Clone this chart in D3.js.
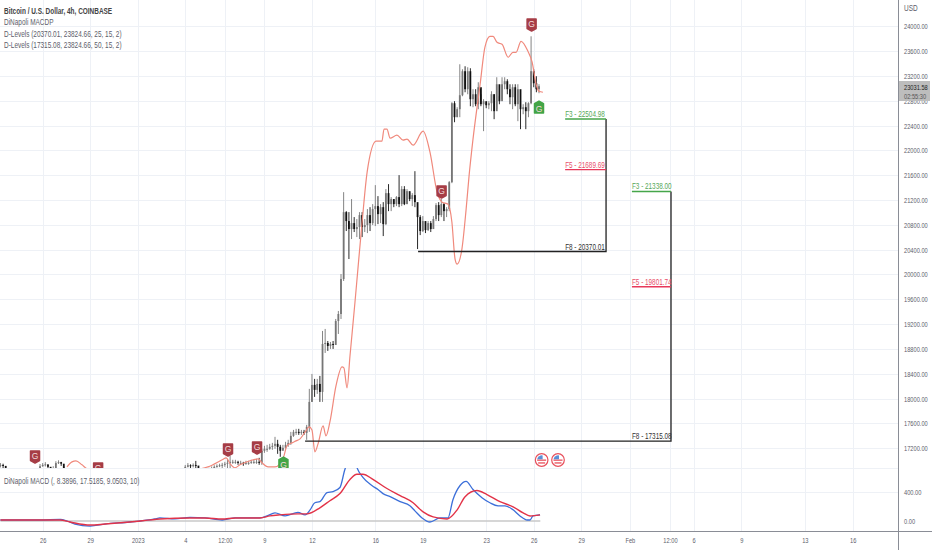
<!DOCTYPE html>
<html>
<head>
<meta charset="utf-8">
<script src="https://cdnjs.cloudflare.com/ajax/libs/d3/7.8.5/d3.min.js"></script>
<style>
  html, body { margin: 0; padding: 0; background: #fff; }
  svg { display: block; font-family: "Liberation Sans", sans-serif; }
  .tick text { fill: #5d606b; font-size: 7.6px; }
  .legend { fill: #5d606b; font-size: 8.6px; }
</style>
</head>
<body>
<div id="chart"></div>
<script>
// 4h closes, one per bar (open = previous close)
var closes = [
  16930,16915,16850,16830,16820,16835,16825,16810,16820,16830,
  16815,16805,16820,16830,16850,16910,16930,16940,16900,16860,
  16880,16960,16975,16950,16880,16850,16830,16820,16835,16820,
  16810,16800,16815,16800,16810,16790,16800,16805,16790,16800,
  16810,16800,16790,16800,16790,16785,16800,16810,16790,16780,
  16790,16800,16810,16800,16790,16800,16810,16790,16800,16810,
  16820,16810,16800,16810,16820,16830,16820,16810,16820,16830,
  16900,16925,16910,16930,16920,16860,16850,16840,16850,16860,
  16880,16900,16915,16925,
  16932,16948,16964,16980,16980,16980,16964,16964,16948,16964,16964,16980,16980,16980,16964,17158,
  17190,17190,17222,17238,17270,17222,17158,17206,17254,17286,
  17399,17463,17463,17447,17463,17447,17544,17946,18220,18140,
  18236,18107,18880,18896,18848,18880,18864,19250,19363,19927,
  21005,20861,20732,20828,20732,20764,20957,20764,20796,20957,
  20828,21054,21102,20973,21085,20812,21311,21134,21215,21134,
  21247,21134,21376,21134,21343,21215,21279,21166,20925,20700,
  20861,20716,20828,20732,20893,21118,20957,21134,21021,21054,
  21488,22760,22535,22664,22889,23276,22986,23276,22825,22905,
  22744,23018,22744,22793,22728,22760,22905,22632,23066,22793,
  23066,23115,22986,22857,23018,22744,22986,22664,22696,22632,
  22760,23276,23082,22986,23034
];
var highs = [
  16960,16950,16880,16855,16845,16860,16850,16835,16845,16855,
  16840,16830,16845,16855,16880,16945,16960,16975,16930,16885,
  16910,16990,17005,16980,16905,16875,16855,16845,16860,16845,
  16835,16825,16840,16825,16835,16815,16825,16830,16815,16825,
  16835,16825,16815,16825,16815,16810,16825,16835,16815,16805,
  16815,16825,16835,16825,16815,16825,16835,16815,16825,16835,
  16845,16835,16825,16835,16845,16855,16845,16835,16845,16855,
  16930,16960,16940,16955,16995,16890,16875,16865,16875,16885,
  16905,16925,16940,16950,
  16964,16980,17029,17077,17013,17013,16997,16997,16980,16997,16997,17013,17013,17029,17045,17190,
  17238,17254,17270,17286,17383,17335,17254,17254,17303,17335,
  17463,17495,17512,17512,17495,17495,17576,18156,18397,18317,
  18317,18365,19090,19122,18928,18912,18928,19283,19412,20007,
  21327,21021,21005,21215,20925,20893,21005,21005,20893,21054,
  21085,21134,21440,21263,21134,21166,21376,21456,21247,21215,
  21263,21601,21424,21424,21376,21327,21311,21665,21134,20957,
  20941,20844,20861,20861,20941,21150,21166,21215,21150,21085,
  21505,22776,22793,22696,23388,23308,23356,23340,23324,22986,
  22986,23098,22905,22825,22776,22793,22953,22905,23179,22873,
  23179,23179,23147,23066,23066,23066,23066,22744,22744,22776,
  22776,23839,23308,23195,23066
];
var lows = [
  16890,16880,16820,16800,16790,16800,16790,16780,16790,16800,
  16785,16775,16790,16800,16820,16880,16900,16905,16870,16830,
  16850,16930,16945,16915,16850,16820,16800,16790,16805,16790,
  16780,16770,16785,16770,16780,16760,16770,16775,16760,16770,
  16780,16770,16760,16770,16760,16755,16770,16780,16760,16750,
  16760,16770,16780,16770,16760,16770,16780,16760,16770,16780,
  16790,16780,16770,16780,16790,16800,16790,16780,16790,16800,
  16820,16890,16880,16890,16850,16830,16820,16810,16820,16830,
  16850,16870,16885,16895,
  16868,16900,16868,16787,16948,16948,16932,16932,16916,16932,16932,16948,16948,16948,16932,16932,
  17125,17141,17174,17174,17190,17109,17061,17174,17190,17222,
  17254,17383,17415,17415,17415,17415,17335,17463,17946,18027,
  18075,17946,17946,18735,18768,18800,18800,18864,19041,19283,
  19895,20700,20249,20571,20684,20603,20571,20603,20684,20667,
  20700,20796,20780,20812,20828,20619,20796,21021,21021,21085,
  21102,21085,21102,21118,21134,21182,21102,21085,20410,20635,
  20684,20667,20700,20684,20764,20861,20861,20925,20861,20925,
  21021,21472,22454,22535,22535,22873,22937,22905,22712,22696,
  22712,22664,22712,22310,22680,22664,22632,22503,22664,22744,
  22825,22986,22905,22744,22664,22712,22471,22342,22583,22342,
  22535,22744,23018,22937,22921
];

// DiNapoli displaced average drawn over the candles
var avgBars = [25.2,27.1,28.6,30.9,32.8,40,60,78.6,84,85.5,87,88.8,90.7,94.5,97.6,99.1,101.4,104,105.9,107.4,108.5,110.4,112,113.5,115.7,116.9,118,119.1,120.3,122.2,123.3,124.8,127.1,129.4,130.1,131.3,132.4,134.3,135.4,137,138.9,142.3,144.5,145.3,146.4,147.6,150.2,152.5,154,156.3,160.1,162.7,165.4,167.3,169.5,171,172.2,173,174.8,176.4,177.5,179,181.7,183.5,185.4,186.6,188.1,190,192.3,194.1,195.3,197.2,199.8,201.4,202.9,204,205.5];
var avgValues = [16900,16980,16997,16932,16868,16800,16780,16900,17013,17045,16948,16884,16932,16997,17029,16964,16900,16900,16948,17077,17238,17286,17318,17351,17479,17544,17495,17141,17270,17560,17399,17624,18204,18510,18494,18172,18687,19556,20087,20845,21649,22148,22148,22342,22342,22197,22245,22165,22181,22084,22310,21972,21327,21166,21134,20845,20249,20168,20410,21054,21585,22181,23066,23662,23839,23839,23742,23710,23501,23581,23581,23758,23598,23421,23066,22953,22937];

// MACD pane
var macdBars = [0,15,22.7,25.2,28.2,34,39.6,49,58.5,60.4,66.1,71.8,77.5,84,88.9,98.3,101,104,107.8,112.7,115.4,117.3,119.1,121,123.7,126,128.6,130.5,132.4,134.3,135,137.3,140.7,143,144.9,147.6,151.4,155.1,157,159.7,162.7,166.5,169.5,171.4,174.1,176.4,179,182.4,185.4,188.5,191.1,194.2,196.8,199.5,200.6,201.7,204.4];
var macdValues = [14,14,21,0,-42,-70,-42,-14,28,42,28,49,42,14,42,42,70,112,70,119,84,154,252,266,392,406,462,714,854,826,742,602,490,434,378,336,266,210,140,42,-14,42,42,294,490,546,434,322,252,210,210,154,70,14,14,70,84];
var signalBars = [0,15,22.6,26.4,34,39.6,49,60.4,71.8,77.5,84,88.9,98.3,102.1,105.9,112.7,116.1,121,124.8,128.6,132.4,135,137.3,141.1,146.4,151.4,156.3,160.1,163.9,169.2,173,176,180.5,184.3,189.2,194.2,198,200.6,204.4];
var signalValues = [14,14,14,-14,-56,-42,-14,28,42,42,28,42,42,70,84,98,98,182,280,378,574,644,644,574,448,350,252,126,56,28,154,336,420,364,266,196,112,70,84];

// axis ticks
var priceTicks = [24000,23600,23200,22800,22400,22000,21600,21200,20800,20400,20000,19600,19200,18800,18400,18000,17600,17200];
var macdTicks = [400,0];
var timeBars = [16,34,52,70,85,100,118,142,160,184,202,220,238.4,253.6,262.6,280.6,304.7,322.8];
var timeLabels = ["26","29","2023","4","12:00","9","12","16","19","23","26","29","Feb","12:00","6","9","13","16"];

// D-Levels
var levelFrom = [158.2,115.4];
var levelEnd = [229.4,254];
var levelStart = [213.9,239.2];
var levelF8 = [20370.01,17315.08];
var levelF5 = [21689.69,19801.74];
var levelF3 = [22504.98,21338.00];

// G pins
var redPinBars = [13.1,37,86.2,97.2,167.1,201.2];
var redPinPrices = [16960,16767,17073,17105,21232,23923];
var greenPinBars = [107.2,204];
var greenPinPrices = [17057,22795];
var eventBars = [205,211.2];

var svgWidth = 932;
var svgHeight = 550;
var plotRight = 898;
var mainBottom = 468;
var macdBottom = 531;

var svg = d3.select("#chart")
  .append("svg")
  .attr("width", svgWidth)
  .attr("height", svgHeight);

var xScale = d3.scaleLinear().domain([0, 204]).range([0.44, 539]);
var yScale = d3.scaleLinear().domain([17200, 24000]).range([448.2, 26.3]);
var macdScale = d3.scaleLinear().domain([0, 400]).range([521, 492]);

var defs = svg.append("defs");
defs.append("clipPath").attr("id", "mainClip").append("rect")
  .attr("width", plotRight).attr("height", mainBottom);
defs.append("clipPath").attr("id", "macdClip").append("rect")
  .attr("y", mainBottom).attr("width", plotRight).attr("height", macdBottom - mainBottom);

// grid
var grid = svg.append("g").attr("stroke", "#eef1f6").attr("stroke-width", 1);
grid.selectAll(".v").data(timeBars).enter().append("line")
  .attr("x1", d => Math.round(xScale(d)) + 0.5).attr("x2", d => Math.round(xScale(d)) + 0.5)
  .attr("y1", 0).attr("y2", macdBottom);
grid.selectAll(".h").data(priceTicks).enter().append("line")
  .attr("x1", 0).attr("x2", plotRight)
  .attr("y1", d => Math.round(yScale(d)) + 0.5).attr("y2", d => Math.round(yScale(d)) + 0.5);
grid.selectAll(".m").data(macdTicks.slice(0, 1)).enter().append("line")
  .attr("x1", 0).attr("x2", plotRight)
  .attr("y1", d => Math.round(macdScale(d)) + 0.5).attr("y2", d => Math.round(macdScale(d)) + 0.5);
grid.append("line").attr("x1", 0).attr("x2", plotRight).attr("y1", 468.5).attr("y2", 468.5);

// candles
var main = svg.append("g").attr("clip-path", "url(#mainClip)");
var candles = closes.map((c, i) => ({
  i: i,
  open: i > 0 ? closes[i - 1] : c,
  close: c,
  high: highs[i],
  low: lows[i]
}));
var candleColor = d => d.close >= d.open ? "#767676" : "#111111";

main.selectAll(".wick").data(candles).enter().append("line")
  .attr("x1", d => xScale(d.i)).attr("x2", d => xScale(d.i))
  .attr("y1", d => yScale(d.high)).attr("y2", d => yScale(d.low))
  .attr("stroke", candleColor)
  .attr("stroke-width", 0.9);
main.selectAll(".body").data(candles).enter().append("rect")
  .attr("x", d => xScale(d.i) - 0.9)
  .attr("width", 1.8)
  .attr("y", d => yScale(Math.max(d.open, d.close)))
  .attr("height", d => Math.max(1, Math.abs(yScale(d.open) - yScale(d.close))))
  .attr("fill", candleColor);

// displaced average
var avgLine = d3.line()
  .x((d, i) => xScale(avgBars[i]))
  .y(d => yScale(d))
  .curve(d3.curveMonotoneX);
main.append("path")
  .attr("d", avgLine(avgValues))
  .attr("fill", "none")
  .attr("stroke", "#f0897c")
  .attr("stroke-width", 1.2);

// G pins
function drawPin(bar, price, color, up) {
  var x = xScale(bar), y = yScale(price);
  var g = main.append("g").attr("transform", `translate(${x}, ${y})`);
  var s = up ? 1 : -1;
  g.append("path")
    .attr("d", `M0 0 L4.5 ${s * 2.5} L4.5 ${s * 12} L-4.5 ${s * 12} L-4.5 ${s * 2.5} Z`)
    .attr("fill", color)
    .attr("stroke", color)
    .attr("stroke-width", 1.5)
    .attr("stroke-linejoin", "round");
  g.append("text")
    .attr("class", "pin")
    .attr("y", s * 7.5)
    .attr("dy", "0.35em")
    .attr("text-anchor", "middle")
    .attr("fill", "#f3dada")
    .attr("font-size", "8.5px")
    .text("G");
}
redPinBars.forEach((b, i) => drawPin(b, redPinPrices[i], "#a63d46", false));
greenPinBars.forEach((b, i) => drawPin(b, greenPinPrices[i], "#43a547", true));

// D-Levels
var levels = svg.append("g");
function levelLabel(x, y, str, color) {
  levels.append("text")
    .attr("x", x).attr("y", y - 2)
    .attr("fill", color)
    .attr("font-size", "8.5px")
    .text(str);
}
levelF8.forEach((f8, i) => {
  var x0 = xScale(levelFrom[i]), x1 = xScale(levelStart[i]), x2 = xScale(levelEnd[i]);
  levels.append("path")
    .attr("d", `M${x0} ${yScale(f8)} H${x2} V${yScale(levelF3[i])}`)
    .attr("fill", "none")
    .attr("stroke", "#222")
    .attr("stroke-width", 1.3);
  levels.append("line")
    .attr("x1", x1).attr("x2", x2)
    .attr("y1", yScale(levelF3[i])).attr("y2", yScale(levelF3[i]))
    .attr("stroke", "#46a64a").attr("stroke-width", 1.4);
  levels.append("line")
    .attr("x1", x1).attr("x2", x2)
    .attr("y1", yScale(levelF5[i])).attr("y2", yScale(levelF5[i]))
    .attr("stroke", "#e8395a").attr("stroke-width", 1.4);
  levelLabel(x1, yScale(levelF3[i]), "F3 - " + levelF3[i].toFixed(2), "#56a85a");
  levelLabel(x1, yScale(levelF5[i]), "F5 - " + levelF5[i].toFixed(2), "#e8506a");
  levelLabel(x1, yScale(f8), "F8 - " + f8.toFixed(2), "#333");
});

// event flags
eventBars.forEach(b => {
  var g = svg.append("g").attr("transform", `translate(${xScale(b)}, 460)`);
  g.append("circle").attr("r", 6.3).attr("fill", "#fff").attr("stroke", "#e8505c").attr("stroke-width", 1.2);
  g.append("rect").attr("x", -4.5).attr("y", -0.5).attr("width", 9).attr("height", 1.3).attr("fill", "#e8505c");
  g.append("rect").attr("x", -3.5).attr("y", 2.3).attr("width", 7).attr("height", 1.3).attr("fill", "#e8505c");
  g.append("path").attr("d", "M-4.5 -0.8 A4.8 4.8 0 0 1 1 -4.6 L1 -0.8 Z").attr("fill", "#5b8fd6");
});

// MACD pane
var macdPane = svg.append("g").attr("clip-path", "url(#macdClip)");
macdPane.append("line")
  .attr("x1", xScale(0)).attr("x2", xScale(204.5))
  .attr("y1", macdScale(0)).attr("y2", macdScale(0))
  .attr("stroke", "#c9c9c9").attr("stroke-width", 1.6);
var macdLine = d3.line().x((d, i) => xScale(macdBars[i])).y(d => macdScale(d)).curve(d3.curveMonotoneX);
var signalLine = d3.line().x((d, i) => xScale(signalBars[i])).y(d => macdScale(d)).curve(d3.curveMonotoneX);
macdPane.append("path").attr("d", macdLine(macdValues))
  .attr("fill", "none").attr("stroke", "#3c6fd9").attr("stroke-width", 1.3);
macdPane.append("path").attr("d", signalLine(signalValues))
  .attr("fill", "none").attr("stroke", "#e23348").attr("stroke-width", 1.4);

// axes, 22800 sits behind the last price tag
var priceAxis = d3.axisRight(yScale).tickValues(priceTicks).tickFormat(d3.format(".2f")).tickSize(0).tickPadding(6);
svg.append("g").attr("transform", `translate(${plotRight}, 0)`).call(priceAxis)
  .call(g => g.select(".domain").remove());
var macdAxis = d3.axisRight(macdScale).tickValues(macdTicks).tickFormat(d3.format(".2f")).tickSize(0).tickPadding(6);
svg.append("g").attr("transform", `translate(${plotRight}, 0)`).call(macdAxis)
  .call(g => g.select(".domain").remove());
var timeAxis = d3.axisBottom(xScale).tickValues(timeBars).tickFormat((d, i) => timeLabels[i]).tickSize(0).tickPadding(7);
svg.append("g").attr("transform", `translate(0, ${macdBottom})`).call(timeAxis)
  .call(g => g.select(".domain").remove());

svg.append("line").attr("x1", plotRight + 0.5).attr("x2", plotRight + 0.5)
  .attr("y1", 0).attr("y2", svgHeight).attr("stroke", "#8a8d96");
svg.append("line").attr("x1", 0).attr("x2", svgWidth)
  .attr("y1", macdBottom + 0.5).attr("y2", macdBottom + 0.5).attr("stroke", "#8a8d96");

svg.append("text").attr("x", 904).attr("y", 11).attr("class", "legend").text("USD");

// last price tag
svg.append("rect").attr("x", 899).attr("y", 81).attr("width", 31).attr("height", 20).attr("fill", "#bdbdbd");
svg.append("text").attr("x", 904).attr("y", 90).attr("fill", "#222").attr("font-size", "7.6px").text("23031.58");
svg.append("text").attr("x", 904).attr("y", 98.5).attr("fill", "#555").attr("font-size", "7.6px").text("02:55:30");

// legends
var legendLines = ["DiNapoli MACDP", "D-Levels (20370.01, 23824.66, 25, 15, 2)", "D-Levels (17315.08, 23824.66, 50, 15, 2)"];
svg.append("text").attr("x", 4).attr("y", 14).attr("class", "legend")
  .attr("font-weight", "bold").style("fill", "#444").text("Bitcoin / U.S. Dollar, 4h, COINBASE");
svg.selectAll(".legendLine").data(legendLines).enter().append("text")
  .attr("class", "legend")
  .attr("x", 4)
  .attr("y", (d, i) => 25 + i * 11.5)
  .text(d => d);
svg.append("text").attr("x", 4).attr("y", 484).attr("class", "legend").text("DiNapoli MACD (, 8.3896, 17.5185, 9.0503, 10)");

// the chart's font is narrower than anything installed, squeeze the text
svg.selectAll("text:not(.pin)").each(function () {
  d3.select(this)
    .attr("textLength", this.getComputedTextLength() * 0.75)
    .attr("lengthAdjust", "spacingAndGlyphs");
});
</script>
</body>
</html>
